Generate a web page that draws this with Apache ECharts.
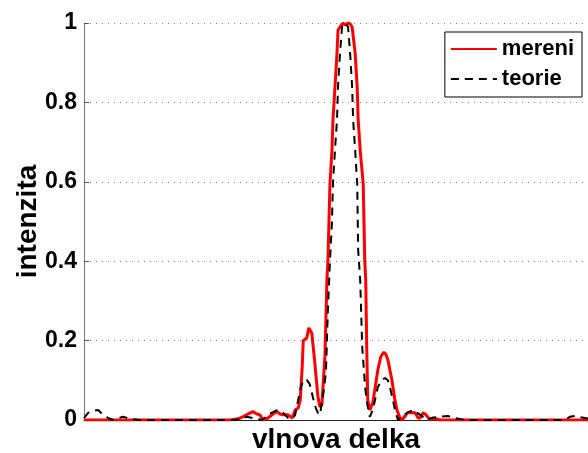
<!DOCTYPE html>
<html>
<head>
<meta charset="utf-8">
<script src="https://cdn.jsdelivr.net/npm/echarts@6/dist/echarts.min.js"></script>
<style>
html,body{margin:0;padding:0;background:#fff;}
#chart{width:588px;height:453px;}
</style>
</head>
<body>
<div id="chart"></div>
<script>
// x positions in arbitrary wavelength units (0..100 spans the visible axis)
const mereniX = [0,13.1,29.0,30.6,31.5,32.5,33.5,34.3,34.9,35.5,36.5,37.5,38.3,38.9,39.5,40.5,41.3,41.9,42.5,42.9,43.3,43.5,43.8,44.2,44.6,45.2,45.8,46.4,46.8,47.2,47.8,48.2,48.4,48.8,49.2,49.4,49.8,50.2,50.4,50.8,51.4,51.8,52.4,52.8,53.2,53.8,54.2,54.4,54.8,55.4,55.7,55.9,56.1,56.3,56.7,57.3,58.3,58.9,59.5,59.9,60.3,61.1,61.7,62.1,62.7,63.1,63.7,64.3,64.7,65.7,66.3,66.7,67.3,67.7,68.7,69.2,70.6,100];
const mereniY = [0,0,0,0.003,0.008,0.015,0.021,0.015,0.013,0,0.005,0.015,0.021,0.015,0.013,0.013,0.005,0.025,0.03,0.05,0.135,0.2,0.205,0.207,0.232,0.219,0.144,0.06,0.033,0.038,0.159,0.353,0.403,0.595,0.68,0.756,0.839,0.924,0.982,0.99,1.0,0.995,1.0,0.998,0.99,0.924,0.839,0.756,0.68,0.595,0.403,0.353,0.18,0.05,0.025,0.043,0.126,0.16,0.171,0.165,0.151,0.1,0.05,0.025,0.005,0,0.01,0.02,0.018,0.018,0.005,0.005,0.018,0.015,0,0.005,0,0];

const teorieX = [0,0.8,1.8,2.8,3.8,4.8,5.8,6.7,7.7,8.7,9.7,11.1,30.0,31.0,32.3,33.5,35.3,36.5,37.5,38.3,39.5,40.5,41.3,41.9,42.9,43.5,44.2,44.8,45.4,46.0,46.4,46.8,47.4,48.0,48.4,48.8,49.2,49.4,49.8,50.2,50.4,50.8,51.2,51.8,52.4,52.8,53.2,53.4,53.8,54.2,54.4,54.8,55.2,55.8,56.2,56.7,57.3,58.3,59.1,59.7,60.3,60.7,61.3,61.7,62.3,62.7,64.1,65.3,66.7,68.1,69.0,70.6,72.2,73.6,75.6,95.4,96.4,97.4,98.4,100];
const teorieY = [0.005,0.018,0.023,0.025,0.013,0.005,0,0.004,0.008,0.005,0.002,0,0,0.003,0.008,0.005,0,0.013,0.02,0.025,0.018,0.005,0.003,0.013,0.076,0.101,0.101,0.09,0.058,0.03,0.018,0.013,0.058,0.12,0.28,0.4,0.5,0.597,0.68,0.756,0.839,0.924,0.99,1.0,0.99,0.924,0.839,0.756,0.68,0.597,0.428,0.353,0.184,0.08,0.04,0.008,0.025,0.083,0.1,0.106,0.1,0.083,0.05,0.025,0,0.005,0.018,0.025,0.013,0,0.005,0.008,0.01,0.005,0,0,0.008,0.01,0.007,0.004];

const yTicks = [0, 0.2, 0.4, 0.6, 0.8, 1];
const seriesNames = ['mereni', 'teorie'];
const xTitle = 'vlnova delka';
const yTitle = 'intenzita';

const pairs = (xs, ys) => xs.map((x, i) => [x, ys[i]]);
const FONT = '"Liberation Sans", Arial, Helvetica, sans-serif';

const chart = echarts.init(document.getElementById('chart'), null, {renderer: 'canvas'});
chart.setOption({
  animation: false,
  backgroundColor: '#fff',
  grid: {left: 84, right: 0, top: 23, bottom: 33, containLabel: false, outerBoundsMode: 'none'},
  xAxis: {
    type: 'value', min: 0, max: 100,
    name: xTitle, nameLocation: 'middle', nameGap: 6, nameMoveOverlap: false,
    nameTextStyle: {fontFamily: FONT, fontWeight: 'bold', fontSize: 28, color: '#000', verticalAlign: 'top'},
    axisLine: {show: true, onZero: false, lineStyle: {color: '#222', width: 1}},
    axisTick: {show: false},
    axisLabel: {show: false},
    splitLine: {show: false}
  },
  yAxis: {
    type: 'value', min: yTicks[0], max: yTicks[yTicks.length - 1], interval: 0.2,
    name: yTitle, nameLocation: 'middle', nameGap: 42, nameMoveOverlap: false,
    nameTextStyle: {fontFamily: FONT, fontWeight: 'bold', fontSize: 28, color: '#000'},
    axisLine: {show: true, lineStyle: {color: '#777', width: 1}},
    axisTick: {show: true, inside: true, length: 5, lineStyle: {color: '#555'}},
    axisLabel: {fontFamily: FONT, fontWeight: 'bold', fontSize: 23, color: '#000', margin: 7,
      formatter: v => String(+v.toFixed(1))},
    splitLine: {show: true, lineStyle: {color: '#888', type: [1, 5], width: 1}}
  },
  legend: {
    show: true, orient: 'vertical', right: 6, top: 32,
    backgroundColor: '#fff', borderColor: '#000', borderWidth: 1,
    padding: [6, 8, 7, 5], itemGap: 8, itemWidth: 46, itemHeight: 22,
    itemStyle: {opacity: 0},
    textStyle: {fontFamily: FONT, fontWeight: 'bold', fontSize: 22, color: '#000'},
    data: seriesNames
  },
  series: [
    {
      name: seriesNames[0], type: 'line', data: pairs(mereniX, mereniY),
      showSymbol: false, symbol: 'none', smooth: false, z: 3,
      lineStyle: {color: '#ff0000', width: 3},
      itemStyle: {color: '#ff0000'}
    },
    {
      name: seriesNames[1], type: 'line', data: pairs(teorieX, teorieY),
      showSymbol: false, symbol: 'none', smooth: false, z: 4,
      lineStyle: {color: '#000', width: 2, type: [8, 6]},
      itemStyle: {color: '#000'}
    }
  ]
});
</script>
</body>
</html>
